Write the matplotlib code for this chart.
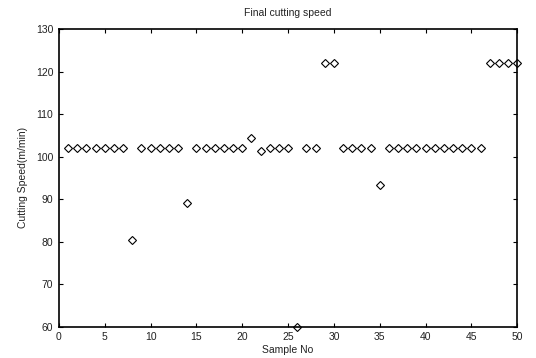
import matplotlib
matplotlib.use('Agg')
import matplotlib.pyplot as plt

# sample numbers and final cutting speed
sample_no = list(range(1, 51))
speed = [102, 102, 102, 102, 102, 102, 102, 80.4, 102, 102,
         102, 102, 102, 89.0, 102, 102, 102, 102, 102, 102,
         104.5, 101.3, 102, 102, 102, 60, 102, 102, 122, 122,
         102, 102, 102, 102, 93.3, 102, 102, 102, 102, 102,
         102, 102, 102, 102, 102, 102, 122, 122, 122, 122]

x_ticks = list(range(0, 51, 5))
y_ticks = list(range(60, 131, 10))

plt.rcParams['font.family'] = ['Liberation Sans', 'DejaVu Sans']

fig = plt.figure(figsize=(5.36, 3.58), dpi=100)
ax = fig.add_axes([0.110, 0.087, 0.855, 0.832])

ax.plot(sample_no, speed, linestyle='none', marker='D', markersize=4.3,
        markerfacecolor='white', markeredgecolor='black', markeredgewidth=0.8,
        clip_on=False)

ax.set_xlim(0, 50)
ax.set_ylim(60, 130)
ax.set_xticks(x_ticks)
ax.set_yticks(y_ticks)
ax.tick_params(direction='in', top=True, right=True, length=3, width=0.8,
               labelsize=7.5, pad=4, labelcolor='#222222')
for s in ax.spines.values():
    s.set_linewidth(1.2)

ax.set_title('Final cutting speed', fontsize=7.5, pad=9, color='#222222')
ax.set_xlabel('Sample No', fontsize=7.5, labelpad=2, color='#222222')
ax.set_ylabel('Cutting Speed(m/min)', fontsize=7.5, labelpad=6, color='#222222')

fig.savefig('out.png', dpi=100)
